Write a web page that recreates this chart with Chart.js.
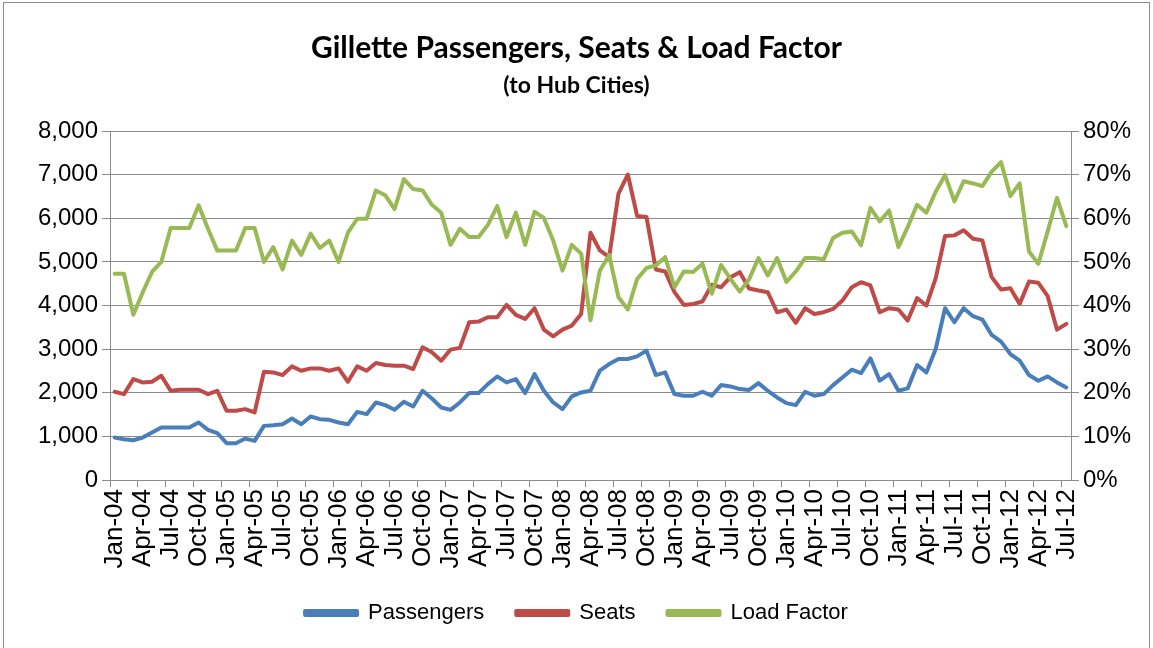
<!DOCTYPE html>
<html>
<head>
<meta charset="utf-8">
<title>Gillette Passengers, Seats & Load Factor</title>
<script src="https://cdn.jsdelivr.net/npm/chart.js@4.4.1/dist/chart.umd.min.js"></script>
<style>
  html, body { margin:0; padding:0; background:#fff; }
  #wrap { position:relative; width:1153px; height:648px; overflow:hidden; }
  #frame { position:absolute; left:3px; top:2px; width:1145px; height:700px; border:1px solid #8c8c8c; }
  #chart { position:absolute; left:0; top:0; }
</style>
</head>
<body>
<div id="wrap">
  <div id="frame"></div>
  <canvas id="chart" width="1153" height="648"></canvas>
</div>
<script>
// monthly categories, Jan-04 .. Jul-12
const months = [
  "Jan-04","Feb-04","Mar-04","Apr-04","May-04","Jun-04","Jul-04","Aug-04","Sep-04","Oct-04","Nov-04","Dec-04",
  "Jan-05","Feb-05","Mar-05","Apr-05","May-05","Jun-05","Jul-05","Aug-05","Sep-05","Oct-05","Nov-05","Dec-05",
  "Jan-06","Feb-06","Mar-06","Apr-06","May-06","Jun-06","Jul-06","Aug-06","Sep-06","Oct-06","Nov-06","Dec-06",
  "Jan-07","Feb-07","Mar-07","Apr-07","May-07","Jun-07","Jul-07","Aug-07","Sep-07","Oct-07","Nov-07","Dec-07",
  "Jan-08","Feb-08","Mar-08","Apr-08","May-08","Jun-08","Jul-08","Aug-08","Sep-08","Oct-08","Nov-08","Dec-08",
  "Jan-09","Feb-09","Mar-09","Apr-09","May-09","Jun-09","Jul-09","Aug-09","Sep-09","Oct-09","Nov-09","Dec-09",
  "Jan-10","Feb-10","Mar-10","Apr-10","May-10","Jun-10","Jul-10","Aug-10","Sep-10","Oct-10","Nov-10","Dec-10",
  "Jan-11","Feb-11","Mar-11","Apr-11","May-11","Jun-11","Jul-11","Aug-11","Sep-11","Oct-11","Nov-11","Dec-11",
  "Jan-12","Feb-12","Mar-12","Apr-12","May-12","Jun-12","Jul-12"
];

const passengers = [
  973, 935, 912, 973, 1088, 1203, 1203, 1203, 1203, 1318, 1149, 1073, 843, 843, 950, 897, 1241,
  1257, 1280, 1410, 1280, 1456, 1395, 1379, 1318, 1280, 1563, 1510, 1778, 1716, 1609, 1793, 1686, 2046,
  1870, 1663, 1609, 1778, 1992, 1992, 2199, 2375, 2238, 2314, 1992, 2429, 2046, 1778, 1625, 1916, 2008,
  2046, 2506, 2659, 2774, 2774, 2835, 2966, 2406, 2467, 1969, 1931, 1931, 2023, 1931, 2176, 2146, 2084,
  2065, 2222, 2046, 1893, 1762, 1716, 2023, 1931, 1969, 2176, 2352, 2529, 2452, 2789, 2276, 2429, 2046,
  2100, 2636, 2467, 3004, 3939, 3617, 3939, 3755, 3678, 3326, 3172, 2889, 2736, 2406, 2276, 2375, 2238, 2123
];

const seats = [
  2023, 1969, 2314, 2237, 2253, 2390, 2046, 2069, 2069, 2069, 1969, 2046, 1586, 1586, 1625, 1548, 2483,
  2467, 2406, 2605, 2506, 2559, 2559, 2506, 2559, 2253, 2605, 2506, 2682, 2636, 2621, 2621, 2544, 3042,
  2930, 2736, 2990, 3030, 3617, 3632, 3732, 3732, 4015, 3785, 3693, 3939, 3448, 3295, 3448, 3540, 3808,
  5670, 5264, 5111, 6567, 7004, 6054, 6031, 4828, 4782, 4307, 4015, 4038, 4092, 4475, 4421, 4651, 4766,
  4390, 4345, 4307, 3847, 3908, 3602, 3939, 3808, 3847, 3923, 4115, 4421, 4536, 4460, 3847, 3939, 3908,
  3655, 4169, 4000, 4628, 5594, 5609, 5724, 5533, 5494, 4651, 4368, 4398, 4038, 4552, 4521, 4215, 3448, 3579
];

// percent
const loadFactor = [
  47.3, 47.3, 37.9, 43.0, 47.7, 50.0, 57.8, 57.8, 57.8, 63.0, 57.6, 52.6, 52.6, 52.6, 57.8, 57.8, 50.0,
  53.4, 48.3, 54.9, 51.6, 56.5, 53.2, 54.9, 50.0, 56.7, 59.9, 59.9, 66.4, 65.3, 62.1, 69.0, 66.7, 66.4,
  63.1, 61.3, 53.9, 57.6, 55.7, 55.7, 58.5, 62.8, 55.7, 61.3, 53.9, 61.5, 60.1, 54.9, 48.0, 53.9, 51.9,
  36.6, 48.0, 51.6, 41.9, 39.1, 46.1, 48.6, 49.2, 51.1, 44.2, 47.8, 47.7, 49.6, 42.7, 49.3, 46.1, 43.2,
  46.0, 50.9, 46.9, 50.9, 45.4, 47.8, 50.9, 50.9, 50.6, 55.5, 56.7, 57.0, 53.8, 62.4, 59.3, 61.8, 53.4,
  58.0, 63.1, 61.3, 66.1, 69.9, 63.9, 68.5, 68.0, 67.4, 70.7, 72.9, 65.1, 68.0, 52.4, 49.6, 57.0, 64.7, 58.2
];

const BLUE = '#4a7ebb', RED = '#be4b48', GREEN = '#98b954';
const GRID = '#8c8c8c';
const FONT = "'Liberation Sans', Arial, sans-serif";
const TITLE_FONT = "Lato, 'Liberation Sans', sans-serif";

function lineSet(label, data, color, axis, order){
  return { label, data, borderColor: color, backgroundColor: color, yAxisID: axis, order };
}

new Chart(document.getElementById('chart'), {
  type: 'line',
  data: {
    labels: months,
    datasets: [
      lineSet('Passengers', passengers, BLUE, 'y', 3),
      lineSet('Seats', seats, RED, 'y', 2),
      lineSet('Load Factor', loadFactor, GREEN, 'y1', 1)
    ]
  },
  options: {
    responsive: false,
    animation: false,
    elements: {
      point: { radius: 0 },
      line: { borderWidth: 4, tension: 0, borderJoinStyle: 'round', borderCapStyle: 'round' }
    },
    layout: { padding: { left: 0, right: 0, top: 0, bottom: 14 } },
    plugins: {
      title: {
        display: true, text: 'Gillette Passengers, Seats & Load Factor', color: '#000',
        font: { family: TITLE_FONT, size: 30, weight: 'bold' }, padding: { top: 30, bottom: 0 }
      },
      subtitle: {
        display: true, text: '(to Hub Cities)', color: '#000',
        font: { family: TITLE_FONT, size: 23, weight: 'bold' }, padding: { top: 6, bottom: 31.5 }
      },
      legend: {
        position: 'bottom',
        labels: {
          boxWidth: 52, boxHeight: 4, padding: 32, color: '#000',
          font: { family: FONT, size: 22 },
          sort: (a, b) => a.datasetIndex - b.datasetIndex
        }
      },
      tooltip: { enabled: false }
    },
    scales: {
      x: {
        offset: true,
        grid: {
          offset: true, drawOnChartArea: false, tickLength: 7,
          tickColor: c => (c.index % 3 === 0 ? GRID : 'rgba(0,0,0,0)')
        },
        border: { color: GRID },
        ticks: {
          autoSkip: false, maxRotation: 90, minRotation: 90, padding: 2, color: '#000',
          font: { family: FONT, size: 26 },
          callback: (v, i) => (i % 3 === 0 ? months[i] : '')
        },
        afterFit: s => { s.height = 90; }
      },
      y: {
        position: 'left', min: 0, max: 8000,
        ticks: { stepSize: 1000, color: '#000', padding: 4, font: { family: FONT, size: 24 },
          callback: v => v.toLocaleString('en-US') },
        grid: { color: GRID, tickLength: 8 },
        border: { color: GRID },
        afterFit: s => { s.width = 110; }
      },
      y1: {
        position: 'right', min: 0, max: 80,
        ticks: { stepSize: 10, color: '#000', padding: 4, font: { family: FONT, size: 24 },
          callback: v => v + '%' },
        grid: { drawOnChartArea: false, color: GRID, tickLength: 8 },
        border: { color: GRID },
        afterFit: s => { s.width = 82; }
      }
    }
  }
});
</script>
</body>
</html>
